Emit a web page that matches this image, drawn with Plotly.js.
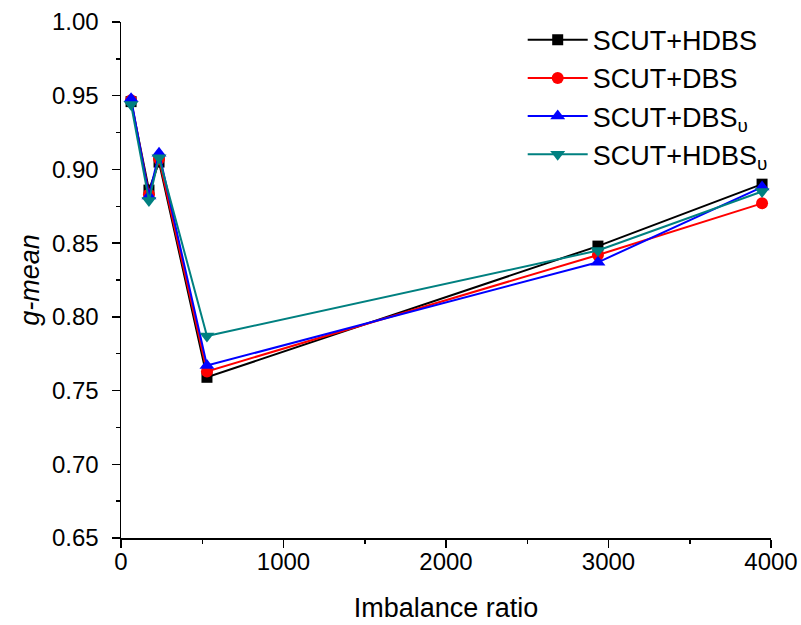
<!DOCTYPE html>
<html>
<head>
<meta charset="utf-8">
<script src="https://cdn.plot.ly/plotly-3.0.1.min.js"></script>
<style>html,body{margin:0;padding:0;background:#fff;}#chart{width:801px;height:625px;}</style>
</head>
<body>
<div id="chart"></div>
<script>
const imbalanceRatio = [62, 172, 234, 529, 2935, 3945];
const scutHdbs = [0.946, 0.886, 0.905, 0.759, 0.848, 0.890];
const scutDbs = [0.947, 0.883, 0.907, 0.763, 0.842, 0.877];
const scutDbsU = [0.948, 0.882, 0.911, 0.767, 0.837, 0.888];
const scutHdbsU = [0.944, 0.879, 0.908, 0.787, 0.845, 0.885];
const seriesNames = ['SCUT+HDBS', 'SCUT+DBS', 'SCUT+DBS<sub>υ</sub>', 'SCUT+HDBS<sub>υ</sub>'];

const colors = ['#000000', '#ff0000', '#0000ff', '#008080'];
const symbols = ['square', 'circle', 'triangle-up', 'triangle-down'];
const sizes = [11, 12, 13, 13];
const ys = [scutHdbs, scutDbs, scutDbsU, scutHdbsU];

const traces = ys.map((y, i) => ({
  x: imbalanceRatio, y: y, name: seriesNames[i], type: 'scatter', mode: 'lines+markers',
  line: {color: colors[i], width: 2},
  marker: {color: colors[i], symbol: symbols[i], size: sizes[i]}
}));

const font = 'Liberation Sans, Arial, sans-serif';
const layout = {
  width: 801, height: 625,
  margin: {l: 121, r: 30, t: 22, b: 87},
  paper_bgcolor: '#fff', plot_bgcolor: '#fff',
  showlegend: true,
  legend: {x: 0.618, y: 1.012, xanchor: 'left', yanchor: 'top', itemwidth: 60,
    font: {family: font, size: 27, color: '#000'}, bgcolor: 'rgba(0,0,0,0)', tracegroupgap: 0},
  xaxis: {
    range: [0, 4000], dtick: 1000, tick0: 0,
    showline: true, linecolor: '#000', linewidth: 1.5, mirror: false,
    ticks: 'outside', ticklen: 8, tickwidth: 1.5, tickcolor: '#000',
    ticklabelstandoff: -6,
    showgrid: false, zeroline: false,
    tickfont: {family: font, size: 24, color: '#000'},
    minor: {dtick: 500, ticks: 'outside', ticklen: 4, tickwidth: 1.5, tickcolor: '#000', showgrid: false},
    title: {text: 'Imbalance ratio', font: {family: font, size: 27, color: '#000'}, standoff: 24}
  },
  yaxis: {
    range: [0.65, 1.0], dtick: 0.05, tick0: 0.65, tickformat: '.2f',
    showline: true, linecolor: '#000', linewidth: 1.5,
    ticks: 'outside', ticklen: 8, tickwidth: 1.5, tickcolor: '#000',
    ticklabelstandoff: 8,
    showgrid: false, zeroline: false,
    tickfont: {family: font, size: 24, color: '#000'},
    minor: {dtick: 0.025, ticks: 'outside', ticklen: 4, tickwidth: 1.5, tickcolor: '#000', showgrid: false},
    title: {text: '<i>g-mean</i>', font: {family: font, size: 27, color: '#000'}, standoff: 4}
  }
};

Plotly.newPlot('chart', traces, layout, {displayModeBar: false, staticPlot: true});
</script>
</body>
</html>
